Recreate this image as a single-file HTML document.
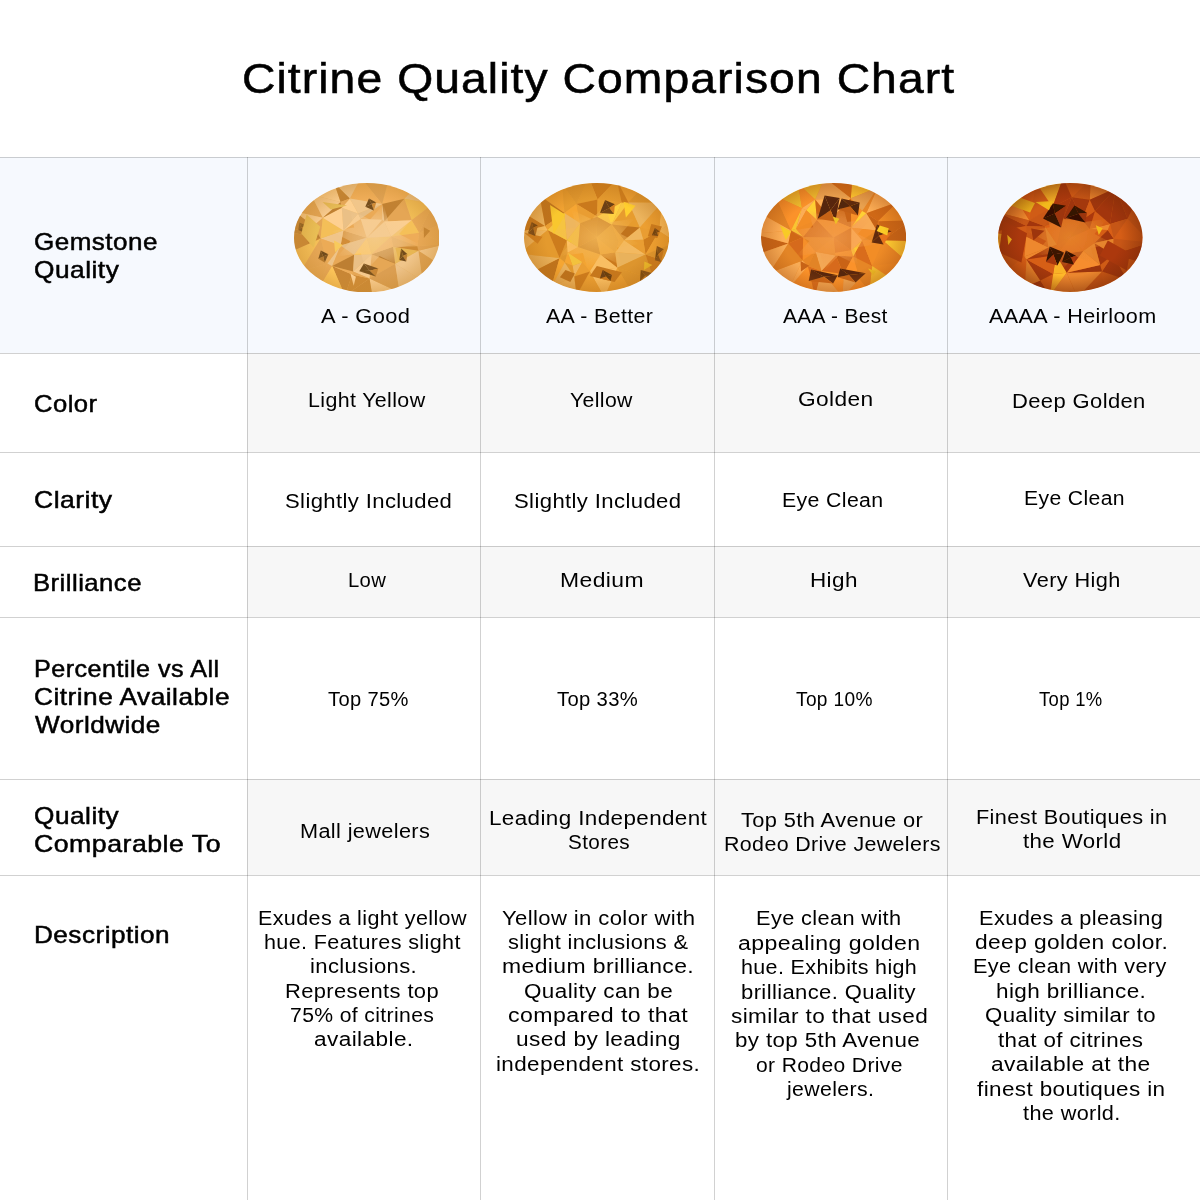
<!DOCTYPE html>
<html><head><meta charset="utf-8"><title>Citrine Quality Comparison Chart</title>
<style>
html,body{margin:0;padding:0;background:#fff;}
body{width:1200px;height:1200px;position:relative;overflow:hidden;font-family:"Liberation Sans",Arial,sans-serif;color:#000;}
.bg{position:absolute;}
.h{position:absolute;left:0;width:1200px;height:1px;background:rgba(0,0,0,0.18);}
.v{position:absolute;top:157px;height:1043px;width:1px;background:rgba(0,0,0,0.18);}
.t{position:absolute;white-space:nowrap;color:#000;transform-origin:0 0;}
.title{-webkit-text-stroke:0.55px #000;}
.lab{-webkit-text-stroke:0.5px #000;}
.d{color:#000;}
.gem{position:absolute;line-height:0;}
.gem svg{display:block;}
</style></head><body>

<div class="bg" style="left:0;top:157px;width:1200px;height:196px;background:#f6f9fe"></div>
<div class="bg" style="left:247px;top:353px;width:953px;height:99px;background:#f7f7f7"></div>
<div class="bg" style="left:247px;top:546px;width:953px;height:71px;background:#f7f7f7"></div>
<div class="bg" style="left:247px;top:779px;width:953px;height:96px;background:#f7f7f7"></div>
<div class="h" style="top:157px"></div>
<div class="h" style="top:353px"></div>
<div class="h" style="top:452px"></div>
<div class="h" style="top:546px"></div>
<div class="h" style="top:617px"></div>
<div class="h" style="top:779px"></div>
<div class="h" style="top:875px"></div>
<div class="v" style="left:247px"></div>
<div class="v" style="left:480px"></div>
<div class="v" style="left:714px"></div>
<div class="v" style="left:947px"></div>
<div class="gem" style="left:293.7px;top:182.5px"><svg width="145.6" height="109.4" viewBox="0 0 145.6 109.4"><defs><clipPath id="c0"><ellipse cx="72.8" cy="54.7" rx="72.8" ry="54.7"/></clipPath><radialGradient id="g0" cx="50%" cy="50%" r="50%"><stop offset="0.7" stop-color="#c88a30" stop-opacity="0"/><stop offset="1" stop-color="#c88a30" stop-opacity="0.4"/></radialGradient><filter id="b0" x="-5%" y="-5%" width="110%" height="110%"><feGaussianBlur stdDeviation="0.45"/></filter><radialGradient id="t0" cx="50%" cy="50%" r="50%"><stop offset="0" stop-color="#f4cc94" stop-opacity="0.75"/><stop offset="0.6" stop-color="#f4cc94" stop-opacity="0.45"/><stop offset="1" stop-color="#f4cc94" stop-opacity="0"/></radialGradient></defs><g clip-path="url(#c0)"><g filter="url(#b0)"><rect width="145.6" height="109.4" fill="#e9b466"/><path d="M144.9,80.9L124.4,67.8L152.5,60.8Z" fill="#f4c88c"/><path d="M25.9,103.5L33.4,80.6L38.2,83.0Z" fill="#e7a756"/><path d="M101.2,80.7L75.5,95.6L77.6,71.3Z" fill="#e6a755"/><path d="M75.5,95.6L105.6,109.6L78.7,114.7Z" fill="#facd90"/><path d="M105.6,109.6L75.5,95.6L101.2,80.7Z" fill="#db9e51"/><path d="M110.3,15.7L119.7,5.9L139.0,20.9Z" fill="#ebc187"/><path d="M117.6,37.2L110.3,15.7L139.0,20.9Z" fill="#f1bd56"/><path d="M110.3,15.7L94.6,-3.2L119.7,5.9Z" fill="#f1af59"/><path d="M150.4,39.9L125.1,49.8L139.0,20.9Z" fill="#e3a454"/><path d="M125.1,49.8L117.6,37.2L139.0,20.9Z" fill="#e6a755"/><path d="M125.1,49.8L150.4,39.9L152.5,60.8Z" fill="#e8a856"/><path d="M58.1,91.4L51.0,112.6L38.2,83.0Z" fill="#c88634"/><path d="M51.0,112.6L25.9,103.5L38.2,83.0Z" fill="#ffc85c"/><path d="M51.0,112.6L75.5,95.6L78.7,114.7Z" fill="#cc8935"/><path d="M75.5,95.6L51.0,112.6L58.1,91.4Z" fill="#ce8a36"/><path d="M6.6,88.5L33.4,80.6L25.9,103.5Z" fill="#e6a755"/><path d="M28.8,34.8L0.7,28.5L17.0,11.6Z" fill="#e1a353"/><path d="M33.4,80.6L46.6,62.6L38.2,83.0Z" fill="#eec388"/><path d="M75.5,95.6L59.1,88.6L77.6,71.3Z" fill="#f5c98d"/><path d="M59.1,88.6L75.5,95.6L58.1,91.4Z" fill="#e5a655"/><path d="M59.1,88.6L58.1,91.4L38.2,83.0Z" fill="#ecab58"/><path d="M144.9,80.9L128.6,97.8L124.4,67.8Z" fill="#dea152"/><path d="M128.6,97.8L101.2,80.7L124.4,67.8Z" fill="#f0c58a"/><path d="M128.6,97.8L105.6,109.6L101.2,80.7Z" fill="#eec389"/><path d="M110.3,15.7L88.1,21.0L94.6,-3.2Z" fill="#f2af5a"/><path d="M94.6,-3.2L88.1,21.0L66.9,-5.3Z" fill="#dea152"/><path d="M124.4,67.8L123.4,63.3L152.5,60.8Z" fill="#e3a454"/><path d="M123.4,63.3L125.1,49.8L152.5,60.8Z" fill="#e8a856"/><path d="M0.7,28.5L19.6,43.1L-6.9,48.6Z" fill="#bf8032"/><path d="M28.8,34.8L19.6,43.1L0.7,28.5Z" fill="#f7cb8e"/><path d="M46.6,62.6L49.4,47.6L72.8,54.7Z" fill="#d28d37"/><path d="M46.6,62.6L60.1,71.8L38.2,83.0Z" fill="#e8a856"/><path d="M60.1,71.8L59.1,88.6L38.2,83.0Z" fill="#bd7f31"/><path d="M59.1,88.6L60.1,71.8L77.6,71.3Z" fill="#eac086"/><path d="M60.1,71.8L72.8,54.7L77.6,71.3Z" fill="#ffc85c"/><path d="M60.1,71.8L46.6,62.6L72.8,54.7Z" fill="#e6bc84"/><path d="M90.3,38.5L110.3,15.7L117.6,37.2Z" fill="#e5a655"/><path d="M90.3,38.5L88.1,21.0L110.3,15.7Z" fill="#c18132"/><path d="M26.6,55.6L49.4,47.6L46.6,62.6Z" fill="#f0c58a"/><path d="M26.6,55.6L46.6,62.6L33.4,80.6Z" fill="#ecab57"/><path d="M26.6,55.6L19.6,43.1L28.8,34.8Z" fill="#e4a554"/><path d="M49.4,47.6L26.6,55.6L28.8,34.8Z" fill="#f4bf58"/><path d="M26.6,55.6L6.6,88.5L-4.8,69.5Z" fill="#f4bf58"/><path d="M6.6,88.5L26.6,55.6L33.4,80.6Z" fill="#e5a655"/><path d="M26.6,55.6L-4.8,69.5L-6.9,48.6Z" fill="#c88634"/><path d="M19.6,43.1L26.6,55.6L-6.9,48.6Z" fill="#bc7e31"/><path d="M123.4,63.3L97.1,53.5L125.1,49.8Z" fill="#eeac58"/><path d="M125.1,49.8L97.1,53.5L117.6,37.2Z" fill="#f5c058"/><path d="M97.1,53.5L90.3,38.5L117.6,37.2Z" fill="#fdcf91"/><path d="M72.8,54.7L97.1,53.5L77.6,71.3Z" fill="#f5c058"/><path d="M90.3,38.5L97.1,53.5L72.8,54.7Z" fill="#f7cb8e"/><path d="M49.4,47.6L66.7,36.0L72.8,54.7Z" fill="#ebaa57"/><path d="M64.1,30.5L66.7,36.0L49.4,47.6Z" fill="#facd90"/><path d="M66.7,36.0L64.1,30.5L88.1,21.0Z" fill="#e6bd84"/><path d="M40.0,-0.2L46.6,19.1L17.0,11.6Z" fill="#fccf91"/><path d="M46.6,19.1L28.8,34.8L17.0,11.6Z" fill="#f7ca8e"/><path d="M99.0,63.8L97.1,53.5L123.4,63.3Z" fill="#e3a554"/><path d="M101.2,80.7L99.0,63.8L124.4,67.8Z" fill="#e8b653"/><path d="M99.0,63.8L123.4,63.3L124.4,67.8Z" fill="#cf8b36"/><path d="M99.0,63.8L101.2,80.7L77.6,71.3Z" fill="#bf8032"/><path d="M97.1,53.5L99.0,63.8L77.6,71.3Z" fill="#f1ae59"/><path d="M90.3,38.5L88.1,36.8L88.1,21.0Z" fill="#edc288"/><path d="M88.1,36.8L66.7,36.0L88.1,21.0Z" fill="#ebaa57"/><path d="M88.1,36.8L90.3,38.5L72.8,54.7Z" fill="#e7a755"/><path d="M66.7,36.0L88.1,36.8L72.8,54.7Z" fill="#f9cc8f"/><path d="M88.1,21.0L55.8,15.4L66.9,-5.3Z" fill="#efad59"/><path d="M64.1,30.5L55.8,15.4L88.1,21.0Z" fill="#f1c68a"/><path d="M55.8,15.4L40.0,-0.2L66.9,-5.3Z" fill="#edc288"/><path d="M55.8,15.4L46.6,19.1L40.0,-0.2Z" fill="#c18132"/><path d="M47.8,24.7L64.1,30.5L49.4,47.6Z" fill="#eac086"/><path d="M47.8,24.7L49.4,47.6L28.8,34.8Z" fill="#fed091"/><path d="M46.6,19.1L47.8,24.7L28.8,34.8Z" fill="#bf8032"/><path d="M47.8,24.7L55.8,15.4L64.1,30.5Z" fill="#fdd091"/><path d="M55.8,15.4L47.8,24.7L46.6,19.1Z" fill="#e5a655"/><path d="M125.1,61.3L101.4,65.0L105.9,82.9L85.6,72.9L72.0,88.0L67.0,70.2L43.3,73.5L56.5,58.3L36.5,48.1L60.2,44.4L55.7,26.5L76.0,36.5L89.6,21.4L94.6,39.2L118.3,35.9L105.1,51.1Z" fill="url(#t0)"/><path d="M75.0,15.5L82.3,19.6L77.7,21.1Z" fill="#7a511e"/><path d="M82.3,19.6L79.8,27.5L77.7,21.1Z" fill="#d08b36"/><path d="M79.8,27.5L71.3,23.8L77.7,21.1Z" fill="#78501e"/><path d="M71.3,23.8L75.0,15.5L77.7,21.1Z" fill="#744d1d"/><path d="M107.1,65.5L113.3,70.9L108.9,72.9Z" fill="#724c1c"/><path d="M113.3,70.9L112.3,78.5L108.9,72.9Z" fill="#bf8032"/><path d="M112.3,78.5L105.3,77.1L108.9,72.9Z" fill="#714b1c"/><path d="M105.3,77.1L107.1,65.5L108.9,72.9Z" fill="#7a521f"/><path d="M69.9,80.5L84.3,85.4L75.7,87.8Z" fill="#825720"/><path d="M84.3,85.4L81.8,93.5L75.7,87.8Z" fill="#c88634"/><path d="M81.8,93.5L65.3,88.3L75.7,87.8Z" fill="#7b521f"/><path d="M65.3,88.3L69.9,80.5L75.7,87.8Z" fill="#79511e"/><path d="M11.3,52.8L17.5,52.0L14.6,61.1Z" fill="#bd7f31"/><path d="M5.4,39.5L14.3,43.2L7.4,44.5Z" fill="#7e541f"/><path d="M14.3,43.2L10.0,49.5L7.4,44.5Z" fill="#b77a2f"/><path d="M10.0,49.5L4.3,46.9L7.4,44.5Z" fill="#714b1c"/><path d="M4.3,46.9L5.4,39.5L7.4,44.5Z" fill="#815620"/><path d="M26.8,67.5L34.3,71.3L29.2,73.6Z" fill="#704b1c"/><path d="M34.3,71.3L30.7,79.5L29.2,73.6Z" fill="#845821"/><path d="M30.7,79.5L24.3,75.8L29.2,73.6Z" fill="#b4792f"/><path d="M24.3,75.8L26.8,67.5L29.2,73.6Z" fill="#7d531f"/><path d="M129.8,44.3L136.2,47.8L129.9,54.9Z" fill="#c48333"/><path d="M28.5,18.9L53.1,22.4L36.8,26.6Z" fill="#e5ba54"/><path d="M12.6,31.5L26.3,43.7L19.6,64.5L7.3,50.6Z" fill="#e9be55"/><path d="M40.0,57.6L48.8,61.9L41.1,69.2Z" fill="#f8ca5b"/><path d="M56.4,90.5L61.9,93.7L59.7,102.7Z" fill="#fdd091"/></g><ellipse cx="72.8" cy="54.7" rx="72.8" ry="54.7" fill="url(#g0)"/></g></svg></div>
<div class="gem" style="left:524.1px;top:182.9px"><svg width="145.2" height="109.0" viewBox="0 0 145.2 109.0"><defs><clipPath id="c1"><ellipse cx="72.6" cy="54.5" rx="72.6" ry="54.5"/></clipPath><radialGradient id="g1" cx="50%" cy="50%" r="50%"><stop offset="0.7" stop-color="#b87018" stop-opacity="0"/><stop offset="1" stop-color="#b87018" stop-opacity="0.4"/></radialGradient><filter id="b1" x="-5%" y="-5%" width="110%" height="110%"><feGaussianBlur stdDeviation="0.45"/></filter><radialGradient id="t1" cx="50%" cy="50%" r="50%"><stop offset="0" stop-color="#f4b858" stop-opacity="0.85"/><stop offset="0.6" stop-color="#f4b858" stop-opacity="0.51"/><stop offset="1" stop-color="#f4b858" stop-opacity="0"/></radialGradient></defs><g clip-path="url(#c1)"><g filter="url(#b1)"><rect width="145.2" height="109.0" fill="#e9a23a"/><path d="M135.1,48.1L149.5,38.4L152.2,59.2Z" fill="#fabf62"/><path d="M35.6,74.9L27.4,103.9L7.6,89.3Z" fill="#bf731d"/><path d="M-4.3,70.6L35.6,74.9L7.6,89.3Z" fill="#e9b25c"/><path d="M15.6,12.5L38.2,0.4L40.4,29.9Z" fill="#f0a231"/><path d="M73.6,16.6L64.9,-5.2L92.6,-3.5Z" fill="#cd7b1f"/><path d="M38.2,0.4L52.4,20.9L40.4,29.9Z" fill="#e59b2f"/><path d="M52.4,20.9L56.2,40.3L40.4,29.9Z" fill="#f6a632"/><path d="M52.4,20.9L64.9,-5.2L73.6,16.6Z" fill="#e2992e"/><path d="M64.9,-5.2L52.4,20.9L38.2,0.4Z" fill="#de962d"/><path d="M52.4,20.9L73.6,16.6L73.3,33.8Z" fill="#ca791e"/><path d="M56.2,40.3L52.4,20.9L73.3,33.8Z" fill="#e99d30"/><path d="M117.8,5.1L104.4,19.4L92.6,-3.5Z" fill="#ec9f30"/><path d="M107.0,108.6L93.3,84.7L129.6,96.5Z" fill="#dd952d"/><path d="M93.3,84.7L107.0,108.6L80.3,114.2Z" fill="#ea9e30"/><path d="M50.3,93.6L52.6,112.5L27.4,103.9Z" fill="#eeb55e"/><path d="M23.7,46.9L-4.3,70.6L-7.0,49.8Z" fill="#efb65e"/><path d="M23.7,46.9L35.6,74.9L-4.3,70.6Z" fill="#e49a2f"/><path d="M54.0,63.9L58.3,79.2L43.7,69.4Z" fill="#f3a432"/><path d="M117.8,5.1L137.6,19.7L104.4,19.4Z" fill="#de962e"/><path d="M137.6,19.7L149.5,38.4L135.1,48.1Z" fill="#ffc364"/><path d="M93.3,84.7L76.4,71.6L91.3,69.2Z" fill="#cb7a1f"/><path d="M54.0,63.9L76.4,71.6L58.3,79.2Z" fill="#f1a331"/><path d="M121.5,71.6L93.3,84.7L91.3,69.2Z" fill="#e9b25c"/><path d="M93.3,84.7L121.5,71.6L129.6,96.5Z" fill="#dd952d"/><path d="M121.5,71.6L145.3,79.3L129.6,96.5Z" fill="#cc7a1f"/><path d="M121.5,71.6L119.3,56.8L135.1,48.1Z" fill="#cd7b1f"/><path d="M121.5,71.6L135.1,48.1L152.2,59.2Z" fill="#f0a231"/><path d="M145.3,79.3L121.5,71.6L152.2,59.2Z" fill="#e0972e"/><path d="M119.3,56.8L115.7,44.5L135.1,48.1Z" fill="#e99d30"/><path d="M115.7,44.5L137.6,19.7L135.1,48.1Z" fill="#ec9f30"/><path d="M137.6,19.7L115.7,44.5L104.4,19.4Z" fill="#ecb45d"/><path d="M50.3,93.6L48.6,82.7L58.3,79.2Z" fill="#efb65e"/><path d="M58.3,79.2L48.6,82.7L43.7,69.4Z" fill="#f3c23e"/><path d="M-0.1,29.7L21.2,43.1L-7.0,49.8Z" fill="#c5761e"/><path d="M21.2,43.1L23.7,46.9L-7.0,49.8Z" fill="#f7bd61"/><path d="M15.6,12.5L21.2,43.1L-0.1,29.7Z" fill="#ecb45d"/><path d="M21.2,43.1L15.6,12.5L40.4,29.9Z" fill="#be721d"/><path d="M23.7,46.9L21.2,43.1L40.4,29.9Z" fill="#ea9e30"/><path d="M35.6,74.9L42.8,57.3L43.7,69.4Z" fill="#e0972e"/><path d="M23.7,46.9L42.8,57.3L35.6,74.9Z" fill="#cd7b1f"/><path d="M42.8,57.3L54.0,63.9L43.7,69.4Z" fill="#fec164"/><path d="M54.0,63.9L42.8,57.3L56.2,40.3Z" fill="#f3c33e"/><path d="M56.2,40.3L42.8,57.3L40.4,29.9Z" fill="#eeb65e"/><path d="M42.8,57.3L23.7,46.9L40.4,29.9Z" fill="#f6c43f"/><path d="M76.4,71.6L65.9,88.6L58.3,79.2Z" fill="#f3a432"/><path d="M65.9,88.6L76.4,71.6L93.3,84.7Z" fill="#f9be62"/><path d="M65.9,88.6L93.3,84.7L80.3,114.2Z" fill="#fabf63"/><path d="M65.9,88.6L50.3,93.6L58.3,79.2Z" fill="#eb9e30"/><path d="M52.6,112.5L65.9,88.6L80.3,114.2Z" fill="#ea9e30"/><path d="M50.3,93.6L65.9,88.6L52.6,112.5Z" fill="#cc7a1f"/><path d="M72.6,54.5L54.0,63.9L56.2,40.3Z" fill="#c7771e"/><path d="M72.6,54.5L76.4,71.6L54.0,63.9Z" fill="#be721d"/><path d="M72.6,54.5L56.2,40.3L73.3,33.8Z" fill="#c4761d"/><path d="M76.4,71.6L72.6,54.5L91.3,69.2Z" fill="#ec9f30"/><path d="M115.7,44.5L87.7,41.5L104.4,19.4Z" fill="#e79c2f"/><path d="M87.7,41.5L72.6,54.5L73.3,33.8Z" fill="#bf731d"/><path d="M100.0,57.3L115.7,44.5L119.3,56.8Z" fill="#f0b75f"/><path d="M100.0,57.3L121.5,71.6L91.3,69.2Z" fill="#f3b960"/><path d="M121.5,71.6L100.0,57.3L119.3,56.8Z" fill="#e99d30"/><path d="M100.0,57.3L87.7,41.5L115.7,44.5Z" fill="#c0731d"/><path d="M40.8,79.5L35.6,74.9L43.7,69.4Z" fill="#de962d"/><path d="M48.6,82.7L40.8,79.5L43.7,69.4Z" fill="#f5a532"/><path d="M35.6,74.9L40.8,79.5L27.4,103.9Z" fill="#f5a632"/><path d="M40.8,79.5L50.3,93.6L27.4,103.9Z" fill="#e9b15c"/><path d="M40.8,79.5L48.6,82.7L50.3,93.6Z" fill="#e1982e"/><path d="M87.7,41.5L97.7,19.6L104.4,19.4Z" fill="#fac840"/><path d="M97.7,19.6L73.6,16.6L92.6,-3.5Z" fill="#e3992e"/><path d="M104.4,19.4L97.7,19.6L92.6,-3.5Z" fill="#cd7b1f"/><path d="M73.6,16.6L97.7,19.6L73.3,33.8Z" fill="#e69c2f"/><path d="M97.7,19.6L87.7,41.5L73.3,33.8Z" fill="#ffd143"/><path d="M72.6,54.5L94.9,58.8L91.3,69.2Z" fill="#e0972e"/><path d="M94.9,58.8L100.0,57.3L91.3,69.2Z" fill="#e99d30"/><path d="M87.7,41.5L94.9,58.8L72.6,54.5Z" fill="#dd952d"/><path d="M100.0,57.3L94.9,58.8L87.7,41.5Z" fill="#e69b2f"/><path d="M116.7,61.1L93.1,64.8L97.6,82.6L77.4,72.7L63.8,87.6L58.9,69.9L35.2,73.3L48.4,58.1L28.5,47.9L52.1,44.2L47.6,26.4L67.8,36.3L81.4,21.4L86.3,39.1L110.0,35.7L96.8,50.9Z" fill="url(#t1)"/><path d="M81.1,17.1L90.9,21.2L85.4,25.1Z" fill="#6b3f12"/><path d="M90.9,21.2L90.0,31.1L85.4,25.1Z" fill="#d78120"/><path d="M90.0,31.1L75.9,30.1L85.4,25.1Z" fill="#774714"/><path d="M75.9,30.1L81.1,17.1L85.4,25.1Z" fill="#6c4012"/><path d="M127.3,41.1L137.9,43.4L133.3,55.1L123.9,53.2Z" fill="#ca791e"/><path d="M130.9,45.1L135.9,48.4L133.1,49.7Z" fill="#704212"/><path d="M135.9,48.4L134.1,53.1L133.1,49.7Z" fill="#cf7c1f"/><path d="M134.1,53.1L127.9,52.3L133.1,49.7Z" fill="#6b3f12"/><path d="M127.9,52.3L130.9,45.1L133.1,49.7Z" fill="#673d11"/><path d="M72.8,83.1L97.9,89.3L90.5,99.1L65.9,93.1Z" fill="#c6771e"/><path d="M78.7,87.1L87.9,91.9L81.8,93.6Z" fill="#6a3f11"/><path d="M87.9,91.9L86.5,98.1L81.8,93.6Z" fill="#673d11"/><path d="M86.5,98.1L75.9,95.4L81.8,93.6Z" fill="#cc7a1f"/><path d="M75.9,95.4L78.7,87.1L81.8,93.6Z" fill="#6c4012"/><path d="M0.2,49.7L18.5,53.8L13.6,60.8Z" fill="#d07d1f"/><path d="M7.6,39.1L13.9,42.5L9.3,44.8Z" fill="#683e11"/><path d="M13.9,42.5L11.3,53.1L9.3,44.8Z" fill="#b56d1b"/><path d="M11.3,53.1L3.9,50.2L9.3,44.8Z" fill="#6d4112"/><path d="M3.9,50.2L7.6,39.1L9.3,44.8Z" fill="#734413"/><path d="M132.9,63.1L139.9,66.2L134.1,71.4Z" fill="#764613"/><path d="M139.9,66.2L137.1,79.1L134.1,71.4Z" fill="#c5761d"/><path d="M137.1,79.1L130.9,77.3L134.1,71.4Z" fill="#744513"/><path d="M130.9,77.3L132.9,63.1L134.1,71.4Z" fill="#633b10"/><path d="M116.8,87.1L129.9,90.6L121.3,92.8Z" fill="#6f4212"/><path d="M129.9,90.6L127.9,99.1L121.3,92.8Z" fill="#774613"/><path d="M127.9,99.1L115.9,98.2L121.3,92.8Z" fill="#c3751d"/><path d="M115.9,98.2L116.8,87.1L121.3,92.8Z" fill="#673d11"/><path d="M26.0,22.1L41.2,31.6L29.6,51.0Z" fill="#f9c72d"/><path d="M99.6,18.7L111.6,22.7L101.9,34.6Z" fill="#ffcf2f"/><path d="M120.4,78.5L128.4,81.9L119.9,87.1Z" fill="#eebf2b"/><path d="M41.5,87.1L50.9,90.4L46.3,99.1L35.9,94.2Z" fill="#bc711c"/></g><ellipse cx="72.6" cy="54.5" rx="72.6" ry="54.5" fill="url(#g1)"/></g></svg></div>
<div class="gem" style="left:761.3px;top:182.5px"><svg width="145.2" height="109.0" viewBox="0 0 145.2 109.0"><defs><clipPath id="c2"><ellipse cx="72.6" cy="54.5" rx="72.6" ry="54.5"/></clipPath><radialGradient id="g2" cx="50%" cy="50%" r="50%"><stop offset="0.7" stop-color="#a85010" stop-opacity="0"/><stop offset="1" stop-color="#a85010" stop-opacity="0.4"/></radialGradient><filter id="b2" x="-5%" y="-5%" width="110%" height="110%"><feGaussianBlur stdDeviation="0.45"/></filter><radialGradient id="t2" cx="50%" cy="50%" r="50%"><stop offset="0" stop-color="#f4a050" stop-opacity="0.75"/><stop offset="0.6" stop-color="#f4a050" stop-opacity="0.45"/><stop offset="1" stop-color="#f4a050" stop-opacity="0"/></radialGradient></defs><g clip-path="url(#c2)"><g filter="url(#b2)"><rect width="145.2" height="109.0" fill="#ee8e2c"/><path d="M37.0,0.8L41.0,25.3L14.7,13.2Z" fill="#eebd2f"/><path d="M30.0,47.5L-0.6,30.6L14.7,13.2Z" fill="#e28426"/><path d="M41.0,25.3L30.0,47.5L14.7,13.2Z" fill="#fb922a"/><path d="M30.0,47.5L41.0,25.3L35.1,45.8Z" fill="#f9c531"/><path d="M-0.6,30.6L30.0,47.5L-7.1,50.8Z" fill="#ffb058"/><path d="M145.8,78.4L130.5,95.8L111.2,83.1Z" fill="#f18d28"/><path d="M130.5,95.8L108.2,108.2L111.2,83.1Z" fill="#f7c431"/><path d="M105.3,30.3L116.7,4.5L136.8,18.9Z" fill="#fcae57"/><path d="M92.1,73.5L82.6,90.9L74.7,72.4Z" fill="#c96418"/><path d="M122.0,57.6L149.2,37.5L152.3,58.2Z" fill="#c66318"/><path d="M145.8,78.4L122.0,57.6L152.3,58.2Z" fill="#ffce33"/><path d="M122.0,57.6L145.8,78.4L111.2,83.1Z" fill="#ed8a27"/><path d="M27.4,60.6L-4.0,71.5L-7.1,50.8Z" fill="#c66318"/><path d="M30.0,47.5L27.4,60.6L-7.1,50.8Z" fill="#fdaf57"/><path d="M41.0,25.3L45.3,27.3L35.1,45.8Z" fill="#fbad57"/><path d="M108.2,108.2L98.5,96.2L111.2,83.1Z" fill="#e78726"/><path d="M98.5,96.2L92.1,73.5L111.2,83.1Z" fill="#e68626"/><path d="M92.1,73.5L98.5,96.2L82.6,90.9Z" fill="#fb922a"/><path d="M82.6,90.9L98.5,96.2L81.6,114.1Z" fill="#f0a653"/><path d="M98.5,96.2L108.2,108.2L81.6,114.1Z" fill="#fb922a"/><path d="M60.4,88.1L82.6,90.9L81.6,114.1Z" fill="#fb932a"/><path d="M53.9,112.8L60.4,88.1L81.6,114.1Z" fill="#f5aa55"/><path d="M82.6,90.9L60.4,88.1L74.7,72.4Z" fill="#d76b1a"/><path d="M60.4,88.1L54.5,68.7L74.7,72.4Z" fill="#f3a854"/><path d="M117.1,38.2L105.3,30.3L136.8,18.9Z" fill="#cf6719"/><path d="M105.3,30.3L117.1,38.2L115.7,47.6Z" fill="#c76318"/><path d="M149.2,37.5L117.1,38.2L136.8,18.9Z" fill="#ef8c28"/><path d="M122.0,57.6L117.1,38.2L149.2,37.5Z" fill="#cb6618"/><path d="M117.1,38.2L122.0,57.6L115.7,47.6Z" fill="#d56b19"/><path d="M89.8,15.2L91.3,-3.8L116.7,4.5Z" fill="#feca32"/><path d="M91.3,-3.8L89.8,15.2L63.6,-5.1Z" fill="#cd6718"/><path d="M54.5,68.7L73.9,69.7L74.7,72.4Z" fill="#e78726"/><path d="M122.0,57.6L101.1,57.3L115.7,47.6Z" fill="#e78727"/><path d="M92.1,73.5L101.1,57.3L111.2,83.1Z" fill="#d96c1a"/><path d="M101.1,57.3L122.0,57.6L111.2,83.1Z" fill="#f28d28"/><path d="M27.4,60.6L8.4,90.1L-4.0,71.5Z" fill="#f7ab55"/><path d="M42.2,54.0L30.0,47.5L35.1,45.8Z" fill="#f5c331"/><path d="M42.2,54.0L27.4,60.6L30.0,47.5Z" fill="#d06819"/><path d="M8.4,90.1L41.6,77.4L28.5,104.5Z" fill="#f8ac56"/><path d="M41.6,77.4L8.4,90.1L27.4,60.6Z" fill="#e38526"/><path d="M41.6,77.4L42.2,54.0L54.5,68.7Z" fill="#f68f29"/><path d="M42.2,54.0L41.6,77.4L27.4,60.6Z" fill="#d66b1a"/><path d="M46.9,82.9L53.9,112.8L28.5,104.5Z" fill="#fa922a"/><path d="M46.9,82.9L60.4,88.1L53.9,112.8Z" fill="#da6d1a"/><path d="M41.6,77.4L46.9,82.9L28.5,104.5Z" fill="#ffb158"/><path d="M60.4,88.1L46.9,82.9L54.5,68.7Z" fill="#e28426"/><path d="M46.9,82.9L41.6,77.4L54.5,68.7Z" fill="#e88727"/><path d="M105.3,30.3L101.1,27.9L116.7,4.5Z" fill="#e78626"/><path d="M101.1,27.9L89.8,15.2L116.7,4.5Z" fill="#e8a150"/><path d="M89.8,15.2L54.2,16.6L63.6,-5.1Z" fill="#eca351"/><path d="M54.2,16.6L37.0,0.8L63.6,-5.1Z" fill="#edbc2f"/><path d="M54.2,16.6L41.0,25.3L37.0,0.8Z" fill="#fa922a"/><path d="M54.2,16.6L45.3,27.3L41.0,25.3Z" fill="#fdaf57"/><path d="M90.1,67.3L101.1,57.3L92.1,73.5Z" fill="#fec932"/><path d="M90.1,67.3L92.1,73.5L74.7,72.4Z" fill="#f18c28"/><path d="M73.9,69.7L90.1,67.3L74.7,72.4Z" fill="#f79029"/><path d="M72.6,54.5L90.1,67.3L73.9,69.7Z" fill="#d96d1a"/><path d="M72.6,54.5L73.9,69.7L54.5,68.7Z" fill="#eb8927"/><path d="M42.2,54.0L72.6,54.5L54.5,68.7Z" fill="#e58526"/><path d="M69.9,36.3L54.2,16.6L89.8,15.2Z" fill="#fdaf57"/><path d="M101.1,27.9L90.2,44.8L89.8,15.2Z" fill="#f89129"/><path d="M90.2,44.8L69.9,36.3L89.8,15.2Z" fill="#c86418"/><path d="M90.2,44.8L101.1,27.9L105.3,30.3Z" fill="#ffcf34"/><path d="M69.9,36.3L90.2,44.8L72.6,54.5Z" fill="#f18c28"/><path d="M90.2,44.8L105.3,30.3L115.7,47.6Z" fill="#f8ab56"/><path d="M101.1,57.3L90.2,44.8L115.7,47.6Z" fill="#f38e29"/><path d="M90.1,67.3L90.2,44.8L101.1,57.3Z" fill="#feaf58"/><path d="M72.6,54.5L90.2,44.8L90.1,67.3Z" fill="#cd6618"/><path d="M54.2,16.6L55.9,37.1L45.3,27.3Z" fill="#ffcf34"/><path d="M69.9,36.3L55.9,37.1L54.2,16.6Z" fill="#c96518"/><path d="M45.3,27.3L55.9,37.1L35.1,45.8Z" fill="#f38e28"/><path d="M55.9,37.1L42.2,54.0L35.1,45.8Z" fill="#f08c28"/><path d="M55.9,37.1L72.6,54.5L42.2,54.0Z" fill="#ce6719"/><path d="M55.9,37.1L69.9,36.3L72.6,54.5Z" fill="#ee8b28"/><path d="M116.7,61.1L93.1,64.8L97.6,82.6L77.4,72.7L63.8,87.6L58.9,69.9L35.2,73.3L48.4,58.1L28.5,47.9L52.1,44.2L47.6,26.4L67.8,36.3L81.4,21.4L86.3,39.1L110.0,35.7L96.8,50.9Z" fill="url(#t2)"/><path d="M63.6,12.5L78.7,14.9L69.6,27.2Z" fill="#582708"/><path d="M78.7,14.9L74.3,38.5L69.6,27.2Z" fill="#5b2808"/><path d="M74.3,38.5L56.7,35.8L69.6,27.2Z" fill="#c66318"/><path d="M56.7,35.8L63.6,12.5L69.6,27.2Z" fill="#552608"/><path d="M80.7,15.5L98.7,19.5L89.1,23.3Z" fill="#5f2a08"/><path d="M98.7,19.5L96.9,32.5L89.1,23.3Z" fill="#532507"/><path d="M96.9,32.5L76.7,26.5L89.1,23.3Z" fill="#c36117"/><path d="M76.7,26.5L80.7,15.5L89.1,23.3Z" fill="#532507"/><path d="M50.1,86.5L76.7,92.3L63.0,93.8Z" fill="#592708"/><path d="M76.7,92.3L72.1,100.5L63.0,93.8Z" fill="#612b09"/><path d="M72.1,100.5L47.7,98.1L63.0,93.8Z" fill="#cd6618"/><path d="M47.7,98.1L50.1,86.5L63.0,93.8Z" fill="#5e2a08"/><path d="M79.2,85.5L104.7,90.3L87.9,92.1Z" fill="#5a2808"/><path d="M104.7,90.3L94.6,99.5L87.9,92.1Z" fill="#5f2a08"/><path d="M94.6,99.5L76.7,94.2L87.9,92.1Z" fill="#c56317"/><path d="M76.7,94.2L79.2,85.5L87.9,92.1Z" fill="#562608"/><path d="M116.0,41.5L130.7,48.5L118.0,52.7Z" fill="#5e2a08"/><path d="M130.7,48.5L122.5,61.5L118.0,52.7Z" fill="#e7731b"/><path d="M122.5,61.5L110.7,59.5L118.0,52.7Z" fill="#622c09"/><path d="M110.7,59.5L116.0,41.5L118.0,52.7Z" fill="#602b09"/><path d="M18.9,42.3L30.2,48.6L24.8,57.1Z" fill="#f8ca27"/><path d="M118.7,42.5L127.7,45.2L126.3,52.5L115.7,48.1Z" fill="#fbcc28"/><path d="M107.1,85.4L114.9,88.3L112.0,92.2Z" fill="#efc226"/><path d="M71.7,33.4L78.4,35.8L74.8,41.3Z" fill="#eec226"/><path d="M39.6,77.9L48.2,82.7L40.0,88.6Z" fill="#c86418"/></g><ellipse cx="72.6" cy="54.5" rx="72.6" ry="54.5" fill="url(#g2)"/></g></svg></div>
<div class="gem" style="left:998.0px;top:182.5px"><svg width="144.6" height="109.0" viewBox="0 0 144.6 109.0"><defs><clipPath id="c3"><ellipse cx="72.3" cy="54.5" rx="72.3" ry="54.5"/></clipPath><radialGradient id="g3" cx="50%" cy="50%" r="50%"><stop offset="0.7" stop-color="#782a06" stop-opacity="0"/><stop offset="1" stop-color="#782a06" stop-opacity="0.5"/></radialGradient><filter id="b3" x="-5%" y="-5%" width="110%" height="110%"><feGaussianBlur stdDeviation="0.45"/></filter><radialGradient id="t3" cx="50%" cy="50%" r="50%"><stop offset="0" stop-color="#e88a30" stop-opacity="0.75"/><stop offset="0.6" stop-color="#e88a30" stop-opacity="0.45"/><stop offset="1" stop-color="#e88a30" stop-opacity="0"/></radialGradient></defs><g clip-path="url(#c3)"><g filter="url(#b3)"><rect width="144.6" height="109.0" fill="#cf5e18"/><path d="M28.5,76.5L26.9,103.7L7.3,89.1Z" fill="#d85f17"/><path d="M-4.4,70.2L26.4,73.5L7.3,89.1Z" fill="#cf5b16"/><path d="M26.4,73.5L28.5,76.5L7.3,89.1Z" fill="#d95f17"/><path d="M42.3,97.4L52.0,112.5L26.9,103.7Z" fill="#9e350a"/><path d="M28.5,76.5L42.3,97.4L26.9,103.7Z" fill="#e5832c"/><path d="M15.9,12.3L31.5,37.6L0.1,29.4Z" fill="#ec872d"/><path d="M15.9,12.3L38.4,0.3L31.5,37.6Z" fill="#d95f17"/><path d="M38.4,0.3L54.5,24.1L31.5,37.6Z" fill="#d05b16"/><path d="M129.5,35.8L149.0,38.8L151.6,59.5Z" fill="#c55715"/><path d="M137.3,19.9L149.0,38.8L129.5,35.8Z" fill="#cd5a16"/><path d="M117.7,5.3L137.3,19.9L129.5,35.8Z" fill="#ab390a"/><path d="M117.7,5.3L91.8,16.7L92.6,-3.5Z" fill="#ea862d"/><path d="M28.2,53.6L-4.4,70.2L-7.0,49.5Z" fill="#ffba29"/><path d="M28.2,53.6L26.4,73.5L-4.4,70.2Z" fill="#d85f17"/><path d="M42.3,97.4L55.2,91.1L52.0,112.5Z" fill="#d35c16"/><path d="M55.2,91.1L42.3,97.4L28.5,76.5Z" fill="#a4370a"/><path d="M54.5,24.1L73.8,14.2L64.8,36.4Z" fill="#a8380a"/><path d="M91.8,16.7L73.8,14.2L92.6,-3.5Z" fill="#c65715"/><path d="M106.2,108.7L104.0,88.6L128.7,96.7Z" fill="#ca5915"/><path d="M104.0,88.6L106.2,108.7L79.5,114.2Z" fill="#c75715"/><path d="M115.2,71.4L144.5,79.6L128.7,96.7Z" fill="#d35d16"/><path d="M104.0,88.6L115.2,71.4L128.7,96.7Z" fill="#a1360a"/><path d="M115.2,71.4L104.0,88.6L102.2,82.0Z" fill="#cf5b16"/><path d="M144.5,79.6L115.2,71.4L151.6,59.5Z" fill="#a9380a"/><path d="M115.2,71.4L102.2,82.0L96.4,60.1Z" fill="#a2360a"/><path d="M112.1,41.1L117.7,5.3L129.5,35.8Z" fill="#a1360a"/><path d="M73.8,14.2L84.1,36.9L64.8,36.4Z" fill="#9f350a"/><path d="M84.1,36.9L73.8,14.2L91.8,16.7Z" fill="#a4370a"/><path d="M0.1,29.4L28.6,43.0L-7.0,49.5Z" fill="#a5370a"/><path d="M28.6,43.0L28.2,53.6L-7.0,49.5Z" fill="#d15b16"/><path d="M31.5,37.6L28.6,43.0L0.1,29.4Z" fill="#c65715"/><path d="M68.6,89.8L104.0,88.6L79.5,114.2Z" fill="#ea862d"/><path d="M104.0,88.6L68.6,89.8L102.2,82.0Z" fill="#9b3409"/><path d="M52.0,112.5L68.6,89.8L79.5,114.2Z" fill="#eb862d"/><path d="M55.2,91.1L68.6,89.8L52.0,112.5Z" fill="#ffb829"/><path d="M26.4,73.5L50.5,64.5L28.5,76.5Z" fill="#ec872d"/><path d="M28.2,53.6L50.5,64.5L26.4,73.5Z" fill="#ee882d"/><path d="M73.8,14.2L65.1,-5.2L92.6,-3.5Z" fill="#d25c16"/><path d="M65.1,-5.2L54.5,24.1L38.4,0.3Z" fill="#f0ad26"/><path d="M65.1,-5.2L73.8,14.2L54.5,24.1Z" fill="#a9380a"/><path d="M109.8,47.0L115.7,55.8L96.4,60.1Z" fill="#a0350a"/><path d="M115.7,55.8L115.2,71.4L96.4,60.1Z" fill="#e5832c"/><path d="M115.7,55.8L112.1,41.1L129.5,35.8Z" fill="#c65715"/><path d="M112.1,41.1L115.7,55.8L109.8,47.0Z" fill="#d95f17"/><path d="M115.7,55.8L129.5,35.8L151.6,59.5Z" fill="#d55d16"/><path d="M115.2,71.4L115.7,55.8L151.6,59.5Z" fill="#c75715"/><path d="M91.5,46.1L109.8,47.0L96.4,60.1Z" fill="#d55d16"/><path d="M91.5,46.1L112.1,41.1L109.8,47.0Z" fill="#ec872d"/><path d="M102.2,82.0L85.2,68.1L96.4,60.1Z" fill="#e5832c"/><path d="M68.6,89.8L85.2,68.1L102.2,82.0Z" fill="#f68d2f"/><path d="M85.2,68.1L91.5,46.1L96.4,60.1Z" fill="#d65e16"/><path d="M28.6,43.0L46.9,43.2L28.2,53.6Z" fill="#ca5815"/><path d="M46.9,43.2L50.5,64.5L28.2,53.6Z" fill="#c85715"/><path d="M46.9,43.2L28.6,43.0L31.5,37.6Z" fill="#a2360a"/><path d="M46.9,43.2L54.5,24.1L64.8,36.4Z" fill="#c55615"/><path d="M54.5,24.1L46.9,43.2L31.5,37.6Z" fill="#ca5915"/><path d="M91.5,46.1L97.0,28.1L112.1,41.1Z" fill="#d35d16"/><path d="M97.0,28.1L91.5,46.1L84.1,36.9Z" fill="#ab390a"/><path d="M97.0,28.1L84.1,36.9L91.8,16.7Z" fill="#d45d16"/><path d="M117.7,5.3L97.0,28.1L91.8,16.7Z" fill="#9d340a"/><path d="M112.1,41.1L97.0,28.1L117.7,5.3Z" fill="#a2360a"/><path d="M58.1,72.1L85.2,68.1L68.6,89.8Z" fill="#a1360a"/><path d="M58.1,72.1L68.6,89.8L55.2,91.1Z" fill="#f9b328"/><path d="M58.1,72.1L55.2,91.1L28.5,76.5Z" fill="#d75e17"/><path d="M50.5,64.5L58.1,72.1L28.5,76.5Z" fill="#a4370a"/><path d="M58.1,72.1L72.3,54.5L85.2,68.1Z" fill="#db6017"/><path d="M85.2,68.1L72.3,54.5L91.5,46.1Z" fill="#da5f17"/><path d="M84.1,36.9L72.3,54.5L64.8,36.4Z" fill="#ce5a16"/><path d="M91.5,46.1L72.3,54.5L84.1,36.9Z" fill="#c75715"/><path d="M59.0,61.6L58.1,72.1L50.5,64.5Z" fill="#cb5915"/><path d="M59.0,61.6L72.3,54.5L58.1,72.1Z" fill="#d25c16"/><path d="M46.9,43.2L59.0,61.6L50.5,64.5Z" fill="#de7f2a"/><path d="M59.0,61.6L46.9,43.2L64.8,36.4Z" fill="#db6017"/><path d="M72.3,54.5L59.0,61.6L64.8,36.4Z" fill="#ce5a16"/><path d="M116.3,61.1L92.7,64.8L97.2,82.6L77.1,72.7L63.6,87.6L58.6,69.9L35.0,73.3L48.2,58.1L28.3,47.9L51.9,44.2L47.4,26.4L67.5,36.3L81.0,21.4L86.0,39.1L109.6,35.7L96.4,50.9Z" fill="url(#t3)"/><path d="M54.9,20.5L68.0,22.8L56.8,30.4Z" fill="#391303"/><path d="M68.0,22.8L63.1,44.5L56.8,30.4Z" fill="#9d340a"/><path d="M63.1,44.5L45.0,35.6L56.8,30.4Z" fill="#371203"/><path d="M45.0,35.6L54.9,20.5L56.8,30.4Z" fill="#341103"/><path d="M76.5,22.5L89.0,29.8L80.6,30.7Z" fill="#391303"/><path d="M89.0,29.8L87.4,39.5L80.6,30.7Z" fill="#9b3409"/><path d="M87.4,39.5L68.0,35.1L80.6,30.7Z" fill="#351103"/><path d="M68.0,35.1L76.5,22.5L80.6,30.7Z" fill="#361203"/><path d="M51.7,63.5L66.0,69.6L55.3,71.4Z" fill="#3c1403"/><path d="M66.0,69.6L59.4,82.5L55.3,71.4Z" fill="#371203"/><path d="M59.4,82.5L48.0,79.0L55.3,71.4Z" fill="#a7380a"/><path d="M48.0,79.0L51.7,63.5L55.3,71.4Z" fill="#381203"/><path d="M67.9,67.5L78.0,72.7L72.9,74.5Z" fill="#331103"/><path d="M78.0,72.7L75.8,81.5L72.9,74.5Z" fill="#ae3a0b"/><path d="M75.8,81.5L64.0,79.0L72.9,74.5Z" fill="#371203"/><path d="M64.0,79.0L67.9,67.5L72.9,74.5Z" fill="#371203"/><path d="M5.3,37.5L29.0,50.3L23.4,79.5L1.0,69.5Z" fill="#aa390a"/><path d="M109.8,57.5L132.0,69.9L128.8,87.5L102.0,72.5Z" fill="#ac390a"/><path d="M33.2,45.5L46.4,47.7L35.3,57.4Z" fill="#9d3409"/><path d="M16.3,12.5L37.0,19.9L32.1,29.5L12.0,22.2Z" fill="#ebb31c"/><path d="M37.5,18.9L54.6,18.0L51.0,27.2Z" fill="#f2b91d"/><path d="M97.8,42.2L104.7,45.3L100.8,51.9Z" fill="#f3b91d"/><path d="M9.2,51.8L13.9,56.3L10.3,61.9Z" fill="#fec21e"/></g><ellipse cx="72.3" cy="54.5" rx="72.3" ry="54.5" fill="url(#g3)"/></g></svg></div>
<div class="t title" style="left:242.35px;top:56.80px;font-size:43px;line-height:43px;letter-spacing:1.00px;transform:scaleX(1.0758)">Citrine Quality Comparison Chart</div>
<div class="t lab" style="left:33.92px;top:230.00px;font-size:24px;line-height:24px;letter-spacing:0.45px;transform:scaleX(1.0842)">Gemstone</div>
<div class="t lab" style="left:33.90px;top:258.00px;font-size:24px;line-height:24px;letter-spacing:0.45px;transform:scaleX(1.0956)">Quality</div>
<div class="t lab" style="left:33.93px;top:392.00px;font-size:24px;line-height:24px;letter-spacing:0.45px;transform:scaleX(1.0660)">Color</div>
<div class="t lab" style="left:33.90px;top:488.30px;font-size:24px;line-height:24px;letter-spacing:0.45px;transform:scaleX(1.1047)">Clarity</div>
<div class="t lab" style="left:33.23px;top:570.50px;font-size:24px;line-height:24px;letter-spacing:0.45px;transform:scaleX(1.0692)">Brilliance</div>
<div class="t lab" style="left:33.95px;top:656.50px;font-size:24px;line-height:24px;letter-spacing:0.45px;transform:scaleX(1.0478)">Percentile vs All</div>
<div class="t lab" style="left:33.91px;top:684.80px;font-size:24px;line-height:24px;letter-spacing:0.45px;transform:scaleX(1.0932)">Citrine Available</div>
<div class="t lab" style="left:35.00px;top:713.30px;font-size:24px;line-height:24px;letter-spacing:0.45px;transform:scaleX(1.0884)">Worldwide</div>
<div class="t lab" style="left:33.91px;top:804.00px;font-size:24px;line-height:24px;letter-spacing:0.45px;transform:scaleX(1.0930)">Quality</div>
<div class="t lab" style="left:33.89px;top:832.00px;font-size:24px;line-height:24px;letter-spacing:0.45px;transform:scaleX(1.1121)">Comparable To</div>
<div class="t lab" style="left:33.91px;top:923.20px;font-size:24px;line-height:24px;letter-spacing:0.45px;transform:scaleX(1.0884)">Description</div>
<div class="t" style="left:321.20px;top:306.20px;font-size:20px;line-height:20px;letter-spacing:0.35px;transform:scaleX(1.0938)">A - Good</div>
<div class="t" style="left:546.30px;top:305.50px;font-size:20px;line-height:20px;letter-spacing:0.35px;transform:scaleX(1.0664)">AA - Better</div>
<div class="t" style="left:783.20px;top:306.00px;font-size:20px;line-height:20px;letter-spacing:0.35px;transform:scaleX(1.0453)">AAA - Best</div>
<div class="t" style="left:988.70px;top:305.50px;font-size:20px;line-height:20px;letter-spacing:0.35px;transform:scaleX(1.0786)">AAAA - Heirloom</div>
<div class="t" style="left:307.93px;top:389.70px;font-size:20px;line-height:20px;letter-spacing:0.35px;transform:scaleX(1.0693)">Light Yellow</div>
<div class="t" style="left:570.40px;top:389.70px;font-size:20px;line-height:20px;letter-spacing:0.35px;transform:scaleX(1.0608)">Yellow</div>
<div class="t" style="left:797.56px;top:389.00px;font-size:20px;line-height:20px;letter-spacing:0.35px;transform:scaleX(1.1354)">Golden</div>
<div class="t" style="left:1012.20px;top:391.00px;font-size:20px;line-height:20px;letter-spacing:0.35px;transform:scaleX(1.0986)">Deep Golden</div>
<div class="t" style="left:284.70px;top:490.80px;font-size:20px;line-height:20px;letter-spacing:0.35px;transform:scaleX(1.1031)">Slightly Included</div>
<div class="t" style="left:514.20px;top:490.80px;font-size:20px;line-height:20px;letter-spacing:0.35px;transform:scaleX(1.1044)">Slightly Included</div>
<div class="t" style="left:782.29px;top:489.70px;font-size:20px;line-height:20px;letter-spacing:0.35px;transform:scaleX(1.0640)">Eye Clean</div>
<div class="t" style="left:1023.59px;top:488.00px;font-size:20px;line-height:20px;letter-spacing:0.35px;transform:scaleX(1.0575)">Eye Clean</div>
<div class="t" style="left:348.29px;top:569.70px;font-size:20px;line-height:20px;letter-spacing:0.35px;transform:scaleX(1.0123)">Low</div>
<div class="t" style="left:559.55px;top:569.70px;font-size:20px;line-height:20px;letter-spacing:0.35px;transform:scaleX(1.1457)">Medium</div>
<div class="t" style="left:809.88px;top:569.70px;font-size:20px;line-height:20px;letter-spacing:0.35px;transform:scaleX(1.1233)">High</div>
<div class="t" style="left:1023.30px;top:569.70px;font-size:20px;line-height:20px;letter-spacing:0.35px;transform:scaleX(1.0861)">Very High</div>
<div class="t" style="left:327.70px;top:689.00px;font-size:20px;line-height:20px;letter-spacing:0.35px;transform:scaleX(1.0056)">Top 75%</div>
<div class="t" style="left:556.70px;top:689.00px;font-size:20px;line-height:20px;letter-spacing:0.35px;transform:scaleX(1.0106)">Top 33%</div>
<div class="t" style="left:795.70px;top:689.00px;font-size:20px;line-height:20px;letter-spacing:0.35px;transform:scaleX(0.9557)">Top 10%</div>
<div class="t" style="left:1039.30px;top:689.00px;font-size:20px;line-height:20px;letter-spacing:0.35px;transform:scaleX(0.9232)">Top 1%</div>
<div class="t" style="left:300.07px;top:821.30px;font-size:20px;line-height:20px;letter-spacing:0.35px;transform:scaleX(1.0835)">Mall jewelers</div>
<div class="t" style="left:489.28px;top:808.40px;font-size:20px;line-height:20px;letter-spacing:0.35px;transform:scaleX(1.1213)">Leading Independent</div>
<div class="t" style="left:568.00px;top:832.40px;font-size:20px;line-height:20px;letter-spacing:0.35px;transform:scaleX(1.0344)">Stores</div>
<div class="t" style="left:740.60px;top:809.60px;font-size:20px;line-height:20px;letter-spacing:0.35px;transform:scaleX(1.0922)">Top 5th Avenue or</div>
<div class="t" style="left:723.53px;top:834.00px;font-size:20px;line-height:20px;letter-spacing:0.35px;transform:scaleX(1.0701)">Rodeo Drive Jewelers</div>
<div class="t" style="left:975.52px;top:806.60px;font-size:20px;line-height:20px;letter-spacing:0.35px;transform:scaleX(1.0833)">Finest Boutiques in</div>
<div class="t" style="left:1022.60px;top:831.00px;font-size:20px;line-height:20px;letter-spacing:0.35px;transform:scaleX(1.1139)">the World</div>
<div class="t d" style="left:257.52px;top:907.70px;font-size:20px;line-height:20px;letter-spacing:0.35px;transform:scaleX(1.0759)">Exudes a light yellow</div>
<div class="t d" style="left:263.62px;top:932.05px;font-size:20px;line-height:20px;letter-spacing:0.35px;transform:scaleX(1.0773)">hue. Features slight</div>
<div class="t d" style="left:309.55px;top:956.40px;font-size:20px;line-height:20px;letter-spacing:0.35px;transform:scaleX(1.1015)">inclusions.</div>
<div class="t d" style="left:285.30px;top:980.75px;font-size:20px;line-height:20px;letter-spacing:0.35px;transform:scaleX(1.0959)">Represents top</div>
<div class="t d" style="left:290.14px;top:1005.10px;font-size:20px;line-height:20px;letter-spacing:0.35px;transform:scaleX(1.0572)">75% of citrines</div>
<div class="t d" style="left:313.90px;top:1029.45px;font-size:20px;line-height:20px;letter-spacing:0.35px;transform:scaleX(1.1313)">available.</div>
<div class="t d" style="left:502.15px;top:907.70px;font-size:20px;line-height:20px;letter-spacing:0.35px;transform:scaleX(1.1032)">Yellow in color with</div>
<div class="t d" style="left:507.60px;top:932.05px;font-size:20px;line-height:20px;letter-spacing:0.35px;transform:scaleX(1.0896)">slight inclusions &amp;</div>
<div class="t d" style="left:502.45px;top:956.40px;font-size:20px;line-height:20px;letter-spacing:0.35px;transform:scaleX(1.1473)">medium brilliance.</div>
<div class="t d" style="left:523.70px;top:980.75px;font-size:20px;line-height:20px;letter-spacing:0.35px;transform:scaleX(1.1234)">Quality can be</div>
<div class="t d" style="left:507.90px;top:1005.10px;font-size:20px;line-height:20px;letter-spacing:0.35px;transform:scaleX(1.1568)">compared to that</div>
<div class="t d" style="left:515.87px;top:1029.45px;font-size:20px;line-height:20px;letter-spacing:0.35px;transform:scaleX(1.1338)">used by leading</div>
<div class="t d" style="left:496.43px;top:1053.80px;font-size:20px;line-height:20px;letter-spacing:0.35px;transform:scaleX(1.1197)">independent stores.</div>
<div class="t d" style="left:756.21px;top:908.30px;font-size:20px;line-height:20px;letter-spacing:0.35px;transform:scaleX(1.0869)">Eye clean with</div>
<div class="t d" style="left:738.30px;top:932.70px;font-size:20px;line-height:20px;letter-spacing:0.35px;transform:scaleX(1.1553)">appealing golden</div>
<div class="t d" style="left:740.88px;top:957.10px;font-size:20px;line-height:20px;letter-spacing:0.35px;transform:scaleX(1.0729)">hue. Exhibits high</div>
<div class="t d" style="left:740.85px;top:981.50px;font-size:20px;line-height:20px;letter-spacing:0.35px;transform:scaleX(1.1010)">brilliance. Quality</div>
<div class="t d" style="left:730.95px;top:1005.90px;font-size:20px;line-height:20px;letter-spacing:0.35px;transform:scaleX(1.1276)">similar to that used</div>
<div class="t d" style="left:735.28px;top:1030.30px;font-size:20px;line-height:20px;letter-spacing:0.35px;transform:scaleX(1.1164)">by top 5th Avenue</div>
<div class="t d" style="left:755.55px;top:1054.70px;font-size:20px;line-height:20px;letter-spacing:0.35px;transform:scaleX(1.0531)">or Rodeo Drive</div>
<div class="t d" style="left:786.61px;top:1079.10px;font-size:20px;line-height:20px;letter-spacing:0.35px;transform:scaleX(1.0633)">jewelers.</div>
<div class="t d" style="left:978.61px;top:907.60px;font-size:20px;line-height:20px;letter-spacing:0.35px;transform:scaleX(1.0879)">Exudes a pleasing</div>
<div class="t d" style="left:975.00px;top:932.02px;font-size:20px;line-height:20px;letter-spacing:0.35px;transform:scaleX(1.1379)">deep golden color.</div>
<div class="t d" style="left:973.32px;top:956.44px;font-size:20px;line-height:20px;letter-spacing:0.35px;transform:scaleX(1.0822)">Eye clean with very</div>
<div class="t d" style="left:995.87px;top:980.86px;font-size:20px;line-height:20px;letter-spacing:0.35px;transform:scaleX(1.1260)">high brilliance.</div>
<div class="t d" style="left:985.30px;top:1005.28px;font-size:20px;line-height:20px;letter-spacing:0.35px;transform:scaleX(1.1091)">Quality similar to</div>
<div class="t d" style="left:998.00px;top:1029.70px;font-size:20px;line-height:20px;letter-spacing:0.35px;transform:scaleX(1.1175)">that of citrines</div>
<div class="t d" style="left:991.00px;top:1054.12px;font-size:20px;line-height:20px;letter-spacing:0.35px;transform:scaleX(1.1384)">available at the</div>
<div class="t d" style="left:977.10px;top:1078.54px;font-size:20px;line-height:20px;letter-spacing:0.35px;transform:scaleX(1.1226)">finest boutiques in</div>
<div class="t d" style="left:1022.70px;top:1102.96px;font-size:20px;line-height:20px;letter-spacing:0.35px;transform:scaleX(1.0826)">the world.</div>
</body></html>
